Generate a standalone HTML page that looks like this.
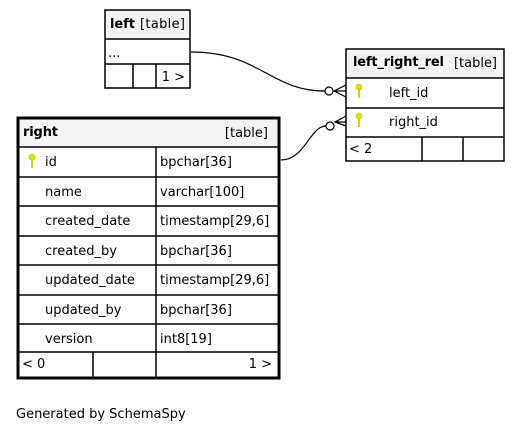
<!DOCTYPE html>
<html><head><meta charset="utf-8"><style>
html,body{margin:0;padding:0;background:#fff;}
svg{display:block;font-family:"DejaVu Sans","Liberation Sans",sans-serif;font-size:13px;}
</style></head><body>
<svg width="520" height="435" viewBox="0 0 520 435" xmlns="http://www.w3.org/2000/svg">
<defs>
<g id="key"><circle cx="0" cy="0" r="3" fill="#e0e000" stroke="#c8c800" stroke-width="0.6"/><rect x="-1" y="1" width="2" height="10" fill="#d8d800"/></g>
</defs>
<!-- left table -->
<rect x="105" y="10" width="85" height="29" fill="#f4f4f4"/>
<rect x="105" y="10" width="85" height="78" fill="none" stroke="#000" stroke-width="1.5"/>
<line x1="105" y1="39" x2="190" y2="39" stroke="#000" stroke-width="1.5"/>
<line x1="105" y1="64" x2="190" y2="64" stroke="#000" stroke-width="1.5"/>
<line x1="133" y1="64" x2="133" y2="88" stroke="#000" stroke-width="1.5"/>
<line x1="156" y1="64" x2="156" y2="88" stroke="#000" stroke-width="1.5"/>
<text x="110" y="28" font-weight="bold" textLength="25">left</text><text x="140" y="28" textLength="45">[table]</text>
<text x="108" y="57">...</text>
<text x="185" y="81" text-anchor="end">1 &gt;</text>
<!-- left_right_rel -->
<rect x="346" y="49" width="158" height="29" fill="#f4f4f4"/>
<rect x="346" y="49" width="158" height="112" fill="none" stroke="#000" stroke-width="1.5"/>
<line x1="346" y1="78" x2="504" y2="78" stroke="#000" stroke-width="1.5"/>
<line x1="346" y1="108" x2="504" y2="108" stroke="#000" stroke-width="1.5"/>
<line x1="346" y1="137" x2="504" y2="137" stroke="#000" stroke-width="1.5"/>
<line x1="422" y1="137" x2="422" y2="161" stroke="#000" stroke-width="1.5"/>
<line x1="463" y1="137" x2="463" y2="161" stroke="#000" stroke-width="1.5"/>
<text x="353" y="66" font-weight="bold" textLength="91">left_right_rel</text><text x="454" y="67" textLength="43">[table]</text>
<use href="#key" x="359" y="87"/><text x="389" y="97">left_id</text>
<use href="#key" x="359" y="116"/><text x="389" y="126">right_id</text>
<text x="349" y="153">&lt; 2</text>
<!-- right table -->
<rect x="18" y="118" width="261" height="29" fill="#f4f4f4"/>
<g stroke="#000" stroke-width="1.5">
<line x1="18" y1="147" x2="279" y2="147"/>
<line x1="18" y1="177" x2="279" y2="177"/>
<line x1="18" y1="206" x2="279" y2="206"/>
<line x1="18" y1="236" x2="279" y2="236"/>
<line x1="18" y1="265" x2="279" y2="265"/>
<line x1="18" y1="295" x2="279" y2="295"/>
<line x1="18" y1="324" x2="279" y2="324"/>
<line x1="18" y1="352" x2="279" y2="352"/>
<line x1="156" y1="147" x2="156" y2="378"/>
<line x1="93" y1="352" x2="93" y2="378"/>
</g>
<rect x="18" y="118" width="261" height="260" fill="none" stroke="#000" stroke-width="3"/>
<text x="23" y="136" font-weight="bold" textLength="35">right</text><text x="268" y="137" text-anchor="end">[table]</text>
<use href="#key" x="32" y="157"/>
<text x="45" y="166">id</text><text x="160" y="166">bpchar[36]</text>
<text x="45" y="196">name</text><text x="160" y="196">varchar[100]</text>
<text x="45" y="225">created_date</text><text x="160" y="225">timestamp[29,6]</text>
<text x="45" y="255">created_by</text><text x="160" y="255">bpchar[36]</text>
<text x="45" y="284">updated_date</text><text x="160" y="284">timestamp[29,6]</text>
<text x="45" y="314">updated_by</text><text x="160" y="314">bpchar[36]</text>
<text x="45" y="343">version</text><text x="160" y="343">int8[19]</text>
<text x="22" y="368">&lt; 0</text><text x="272" y="368" text-anchor="end">1 &gt;</text>
<!-- connectors -->
<path d="M191 52 C260 52 270 91 325 91" fill="none" stroke="#000" stroke-width="1.2"/>
<circle cx="329" cy="91" r="4" fill="#fff" stroke="#000" stroke-width="1.2"/>
<path d="M346 85 L334 91 L346 97 M334 91 L346 91" fill="none" stroke="#000" stroke-width="1.2"/>
<path d="M281 160 C305 160 310 126 326 126" fill="none" stroke="#000" stroke-width="1.2"/>
<circle cx="330" cy="126" r="4" fill="#fff" stroke="#000" stroke-width="1.2"/>
<path d="M346 116 L335 122 L346 126 M335 122 L346 122" fill="none" stroke="#000" stroke-width="1.2"/>
<text x="16" y="418">Generated by SchemaSpy</text>
</svg>
</body></html>
